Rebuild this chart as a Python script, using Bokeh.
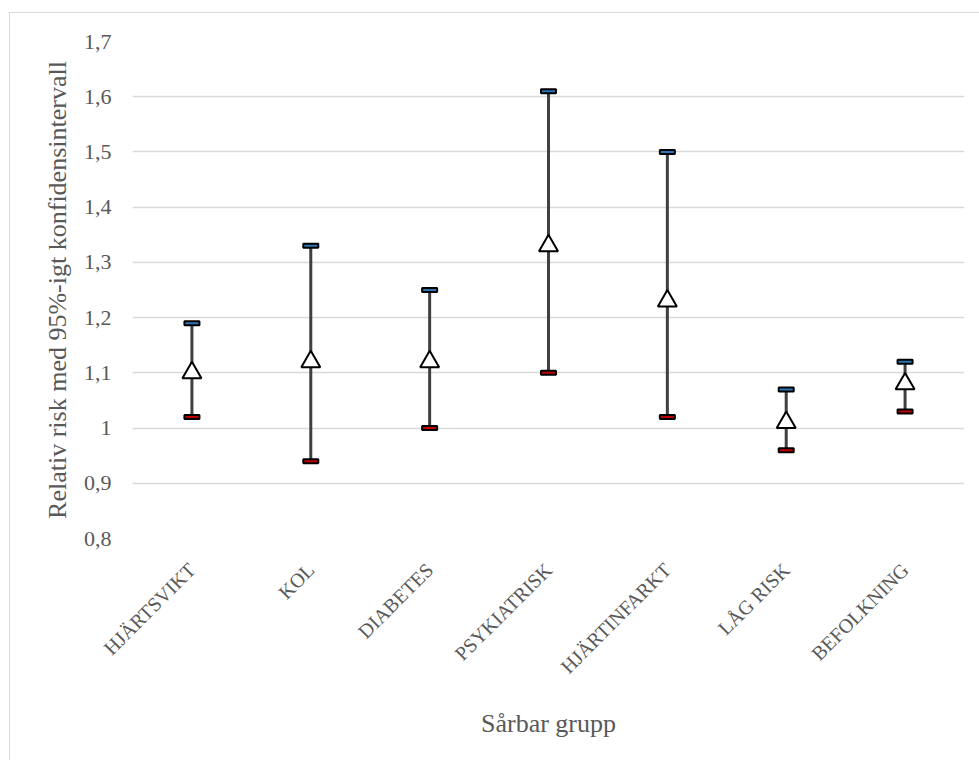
from bokeh.plotting import figure
from bokeh.models import FactorRange, Range1d, FixedTicker, ColumnDataSource
from bokeh.embed import file_html
from bokeh.resources import INLINE
import math

# ---- data ----
groups = ["HJÄRTSVIKT", "KOL", "DIABETES", "PSYKIATRISK", "HJÄRTINFARKT", "LÅG RISK", "BEFOLKNING"]
point = [1.10, 1.12, 1.12, 1.33, 1.23, 1.01, 1.08]
upper = [1.19, 1.33, 1.25, 1.61, 1.50, 1.07, 1.12]
lower = [1.02, 0.94, 1.00, 1.10, 1.02, 0.96, 1.03]
y_ticks = [0.8, 0.9, 1.0, 1.1, 1.2, 1.3, 1.4, 1.5, 1.6, 1.7]
y_tick_labels = ["0,8", "0,9", "1", "1,1", "1,2", "1,3", "1,4", "1,5", "1,6", "1,7"]
x_title = "Sårbar grupp"
y_title = "Relativ risk med 95%-igt konfidensintervall"

FONT = "Liberation Serif"
TXT = "#595959"

src = ColumnDataSource(dict(g=groups, p=point, u=upper, l=lower))

p = figure(width=970, height=748, x_range=FactorRange(*groups, range_padding=0),
           y_range=Range1d(0.8, 1.7), output_backend="svg", toolbar_location=None,
           min_border_left=122, min_border_right=16, min_border_top=28, min_border_bottom=223)
p.styles = {"margin-left": "9px", "margin-top": "12px",
            "border-left": "1px solid #d9d9d9", "border-top": "1px solid #d9d9d9",
            "box-sizing": "border-box"}
p.outline_line_color = None
p.background_fill_color = "white"
p.border_fill_color = "white"

# grid
p.xgrid.grid_line_color = None
p.ygrid.grid_line_color = "#d9d9d9"
p.ygrid.grid_line_width = 1.5

# y axis
p.yaxis.ticker = FixedTicker(ticks=y_ticks)
p.yaxis.major_label_overrides = {t: s for t, s in zip(y_ticks, y_tick_labels)}
p.yaxis.axis_line_color = None
p.yaxis.major_tick_line_color = None
p.yaxis.minor_tick_line_color = None
p.yaxis.major_tick_out = 0
p.yaxis.major_label_standoff = 21
p.yaxis.major_label_text_font = FONT
p.yaxis.major_label_text_font_size = "22px"
p.yaxis.major_label_text_color = TXT
p.yaxis.axis_label = y_title
p.yaxis.axis_label_text_font = FONT
p.yaxis.axis_label_text_font_size = "26px"
p.yaxis.axis_label_text_font_style = "normal"
p.yaxis.axis_label_text_color = TXT
p.yaxis.axis_label_standoff = 9

# x axis
p.xaxis.axis_line_color = None
p.xaxis.major_tick_line_color = None
p.xaxis.minor_tick_line_color = None
p.xaxis.major_tick_out = 0
p.xaxis.major_label_orientation = math.pi / 4
p.xaxis.major_label_standoff = 28
p.xaxis.major_label_text_font = FONT
p.xaxis.major_label_text_font_size = "20px"
p.xaxis.major_label_text_color = TXT
p.xaxis.axis_label = x_title
p.xaxis.axis_label_text_font = FONT
p.xaxis.axis_label_text_font_size = "26px"
p.xaxis.axis_label_text_font_style = "normal"
p.xaxis.axis_label_text_color = TXT
p.xaxis.axis_label_standoff = 21

# whiskers
p.segment(x0="g", y0="l", x1="g", y1="u", source=src, line_color="#404040", line_width=3)
# caps
p.rect(x="g", y="u", width=15, height=4, width_units="screen", height_units="screen",
       source=src, fill_color="#2e75b6", line_color="black", line_width=2)
p.rect(x="g", y="l", width=15, height=4, width_units="screen", height_units="screen",
       source=src, fill_color="#c00000", line_color="black", line_width=2)
# points
p.scatter(x="g", y="p", source=src, marker="triangle", size=19,
          fill_color="white", line_color="black", line_width=2)

open("out.html", "w").write(file_html(p, INLINE))
